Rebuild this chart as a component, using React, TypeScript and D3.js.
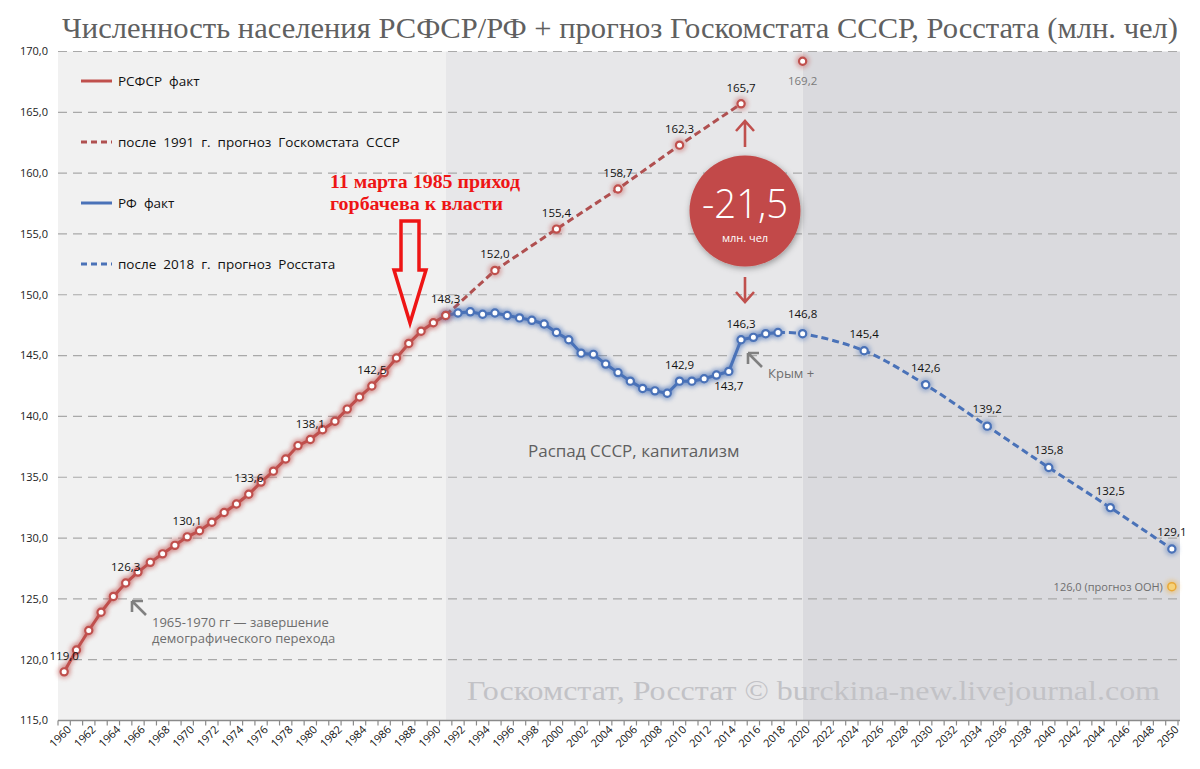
import * as React from 'react';
import * as d3 from 'd3';

// categories and values
const years = d3.range(1960, 2051);
const yTicks = [115, 120, 125, 130, 135, 140, 145, 150, 155, 160, 165, 170];

const rsfsrYears = d3.range(1960, 1992);
const rsfsrValues = [
  119.0, 120.8, 122.4, 123.9, 125.2, 126.3, 127.2, 128.0, 128.7, 129.4,
  130.1, 130.6, 131.3, 132.1, 132.8, 133.6, 134.6, 135.5, 136.5, 137.6,
  138.1, 138.9, 139.6, 140.6, 141.6, 142.5, 143.6, 144.8, 146.0, 147.0,
  147.7, 148.3,
];
const rsfsrLabelYears = [1960, 1965, 1970, 1975, 1980, 1985, 1991];

const rfYears = d3.range(1991, 2019);
const rfValues = [
  148.3, 148.5, 148.6, 148.4, 148.5, 148.3, 148.1, 147.9, 147.6, 146.9,
  146.3, 145.2, 145.1, 144.3, 143.6, 142.9, 142.3, 142.1, 141.9, 142.9,
  142.9, 143.1, 143.4, 143.7, 146.3, 146.5, 146.8, 146.9,
];
const rfLabelYears = [2010, 2014, 2015];

const gksYears = [1991, 1995, 2000, 2005, 2010, 2015];
const gksValues = [148.3, 152.0, 155.4, 158.7, 162.3, 165.7];
const gksLastYear = 2020;
const gksLastValue = 169.2;

const rosstatYears = [2018, 2020, 2025, 2030, 2035, 2040, 2045, 2050];
const rosstatValues = [146.9, 146.8, 145.4, 142.6, 139.2, 135.8, 132.5, 129.1];

const unYear = 2050;
const unValue = 126.0;

const legendItems = [
  { label: 'РСФСР  факт', color: '#c0504d', dashed: false },
  { label: 'после  1991  г.  прогноз  Госкомстата  СССР', color: '#b05050', dashed: true },
  { label: 'РФ  факт', color: '#4a72b8', dashed: false },
  { label: 'после  2018  г.  прогноз  Росстата', color: '#4a72b8', dashed: true },
];

const RED = '#c0504d';
const BLUE = '#4a72b8';
const SANS = '"Open Sans", "Noto Sans", sans-serif';
const SERIF = '"Liberation Serif", "DejaVu Serif", serif';

type Pt = { year: number; value: number };
const zip = (ys: number[], vs: number[]): Pt[] => ys.map((y, i) => ({ year: y, value: vs[i] }));
const fmt = (v: number) => d3.format('.1f')(v).replace('.', ',');

export default function App() {
  const width = 1200;
  const height = 769;

  const x = d3.scaleBand<number>().domain(years).range([58, 1178]);
  const cx = (yr: number) => (x(yr) ?? 0) + x.bandwidth() / 2;
  const y = d3.scaleLinear().domain([115, 170]).range([720.5, 51.5]);

  const rsfsr = zip(rsfsrYears, rsfsrValues);
  const rf = zip(rfYears, rfValues);
  const gks = zip(gksYears, gksValues);
  const rosstat = zip(rosstatYears, rosstatValues);

  const line = d3.line<Pt>().x(d => cx(d.year)).y(d => y(d.value));
  const smooth = d3.line<Pt>().x(d => cx(d.year)).y(d => y(d.value)).curve(d3.curveCatmullRom);

  const x0 = x.range()[0];
  const x1 = x.range()[1];
  const split1 = cx(1991);
  const split2 = cx(2020);
  const top = y(170);
  const bottom = y(115);

  const label = (p: Pt, key: string, dy = -12, color = '#111') => (
    <text key={key} x={cx(p.year)} y={y(p.value) + dy} textAnchor="middle"
      fontSize={11.5} fontFamily={SANS} fill={color}>{fmt(p.value)}</text>
  );

  const marker = (p: Pt, color: string, key: string) => (
    <g key={key}>
      <circle cx={cx(p.year)} cy={y(p.value)} r={7} fill={color} opacity={0.4} filter="url(#glow)" />
      <circle cx={cx(p.year)} cy={y(p.value)} r={3.6} fill="#fff" stroke={color} strokeWidth={2.2} />
    </g>
  );

  return (
    <svg width={width} height={height} viewBox={`0 0 ${width} ${height}`}
      style={{ position: 'absolute', left: 0, top: 0, background: '#fff' }}>
      <defs>
        <filter id="glow" x="-50%" y="-50%" width="200%" height="200%">
          <feGaussianBlur stdDeviation="2.2" />
        </filter>
        <filter id="shadow" x="-30%" y="-30%" width="160%" height="160%">
          <feDropShadow dx="1" dy="2" stdDeviation="3" floodColor="#000" floodOpacity="0.35" />
        </filter>
      </defs>

      {/* title */}
      <text x={62} y={38} fontFamily={SERIF} fontSize={30} fill="#606060"
        textLength={1116} lengthAdjust="spacingAndGlyphs">
        Численность населения РСФСР/РФ + прогноз Госкомстата СССР, Росстата (млн. чел)
      </text>

      {/* shaded periods */}
      <rect x={x0} y={top} width={split1 - x0} height={bottom - top} fill="#f1f1f1" />
      <rect x={split1} y={top} width={split2 - split1} height={bottom - top} fill="#e7e7e9" />
      <rect x={split2} y={top} width={x1 + 2 - split2} height={bottom - top} fill="#dadade" />

      {/* grid + y axis labels */}
      {yTicks.map(t => (
        <g key={t}>
          {t > 115 && (
            <line x1={x0} x2={x1 + 2} y1={y(t)} y2={y(t)} stroke="#a9a9a9" strokeWidth={1.2} strokeDasharray="9,6" />
          )}
          <text x={48} y={y(t)} dy="0.35em" textAnchor="end" fontSize={11} fontFamily={SANS} fill="#222">
            {fmt(t)}
          </text>
        </g>
      ))}

      {/* x axis */}
      <line x1={x0} x2={x1 + 2} y1={bottom} y2={bottom} stroke="#8a8a8a" strokeWidth={1.5} />
      {years.map(yr => (
        <line key={'t' + yr} x1={x(yr)} x2={x(yr)} y1={bottom} y2={bottom + 5} stroke="#8a8a8a" strokeWidth={1.2} />
      ))}
      <line x1={x1} x2={x1} y1={bottom} y2={bottom + 5} stroke="#8a8a8a" strokeWidth={1.2} />
      {years.filter(yr => yr % 2 === 0).map(yr => (
        <text key={'l' + yr} transform={`translate(${cx(yr) + 5},${bottom + 7}) rotate(-45)`}
          textAnchor="end" dy="0.35em" fontSize={11} fontFamily={SANS} fill="#111">{yr}</text>
      ))}

      {/* watermark */}
      <text x={467} y={700} fontFamily={SERIF} fontSize={28} fill="#c2c2c6"
        textLength={693} lengthAdjust="spacingAndGlyphs">
        Госкомстат, Росстат © burckina-new.livejournal.com
      </text>

      {/* legend */}
      {legendItems.map((it, i) => {
        const ly = [81, 142, 203, 264][i];
        return (
          <g key={it.label}>
            <line x1={81} x2={112} y1={ly} y2={ly} stroke={it.color} strokeWidth={3}
              strokeDasharray={it.dashed ? '6,4' : undefined} />
            <text x={118} y={ly} dy="0.35em" fontSize={13.5} fontFamily={SANS} fill="#111"
              style={{ whiteSpace: 'pre' }}>{it.label}</text>
          </g>
        );
      })}

      {/* annotations */}
      <text x={528} y={457} fontSize={17} fontFamily={SANS} fill="#5f5f5f">Распад СССР, капитализм</text>
      <text x={152} y={627} fontSize={13} fontFamily={SANS} fill="#6e6e6e">1965-1970 гг — завершение</text>
      <text x={152} y={643} fontSize={13} fontFamily={SANS} fill="#6e6e6e">демографического перехода</text>
      <g stroke="#808080" strokeWidth={2.6} fill="none">
        <path d="M146,615 L132,601 M132,601 L143,601 M132,601 L132,612" />
        <path d="M762,367 L748,353 M748,353 L759,353 M748,353 L748,364" />
      </g>
      <text x={768} y={378} fontSize={13} fontFamily={SANS} fill="#6e6e6e">Крым +</text>

      {/* glow under lines */}
      <g filter="url(#glow)" fill="none" opacity={0.45}>
        <path d={line(rsfsr) ?? ''} stroke={RED} strokeWidth={7} />
        <path d={line(rf) ?? ''} stroke={BLUE} strokeWidth={7} />
      </g>

      {/* series lines */}
      <path d={line(gks) ?? ''} fill="none" stroke="#b05050" strokeWidth={3} strokeDasharray="7,4" />
      <path d={smooth(rosstat) ?? ''} fill="none" stroke={BLUE} strokeWidth={3} strokeDasharray="7,4" />
      <path d={line(rf) ?? ''} fill="none" stroke={BLUE} strokeWidth={3} />
      <path d={line(rsfsr) ?? ''} fill="none" stroke={RED} strokeWidth={3} />

      {/* markers */}
      {rf.map(p => marker(p, BLUE, 'rf' + p.year))}
      {rosstat.slice(1).map(p => marker(p, BLUE, 'ro' + p.year))}
      {gks.slice(1).map(p => marker(p, RED, 'g' + p.year))}
      {marker({ year: gksLastYear, value: gksLastValue }, RED, 'glast')}
      {rsfsr.map(p => marker(p, RED, 'r' + p.year))}
      <circle cx={cx(unYear)} cy={y(unValue)} r={7} fill="#f0b040" opacity={0.45} filter="url(#glow)" />
      <circle cx={cx(unYear)} cy={y(unValue)} r={4} fill="#f6d27a" stroke="#e8a838" strokeWidth={1.5} />

      {/* data labels */}
      {rsfsr.filter(p => rsfsrLabelYears.includes(p.year)).map(p => label(p, 'lr' + p.year))}
      {gks.slice(1).map(p => label(p, 'lg' + p.year))}
      {label({ year: gksLastYear, value: gksLastValue }, 'lglast', 24, '#7a7a7a')}
      {rf.filter(p => rfLabelYears.includes(p.year)).map(p =>
        label(p, 'lf' + p.year, p.year === 2014 ? 19 : -12))}
      {rosstat.slice(1).map(p => label(p, 'lo' + p.year, p.year === 2020 ? -16 : -13))}
      <text x={cx(unYear) - 9} y={y(unValue)} dy="0.35em" textAnchor="end" fontSize={11}
        fontFamily={SANS} fill="#6e6e6e">{fmt(unValue)} (прогноз ООН)</text>

      {/* difference bubble */}
      <g stroke={RED} strokeWidth={2.6} fill="none">
        <path d="M745,147 L745,121 M736,131 L745,121 L754,131" />
        <path d="M745,277 L745,302 M736,292 L745,302 L754,292" />
      </g>
      <circle cx={745} cy={211} r={55.5} fill="#c24a48" filter="url(#shadow)" />
      <text x={745} y={218} textAnchor="middle" fontSize={40} fontFamily={SANS} fontWeight={300} fill="#fff"
        textLength={86} lengthAdjust="spacingAndGlyphs">-21,5</text>
      <text x={745} y={242} textAnchor="middle" fontSize={11} fontFamily={SANS} fill="#fff">млн. чел</text>

      {/* Gorbachev annotation */}
      <text x={330} y={188} fontFamily={SERIF} fontWeight="bold" fontSize={19} fill="#ee1515"
        textLength={190} lengthAdjust="spacingAndGlyphs">11 марта 1985 приход</text>
      <text x={330} y={210} fontFamily={SERIF} fontWeight="bold" fontSize={19} fill="#ee1515"
        textLength={173} lengthAdjust="spacingAndGlyphs">горбачева к власти</text>
      <path d="M401,221 L419,221 L419,270 L426,270 L410,323 L394,270 L401,270 Z"
        fill="none" stroke="#ee1515" strokeWidth={3.5} strokeLinejoin="miter" />
    </svg>
  );
}
